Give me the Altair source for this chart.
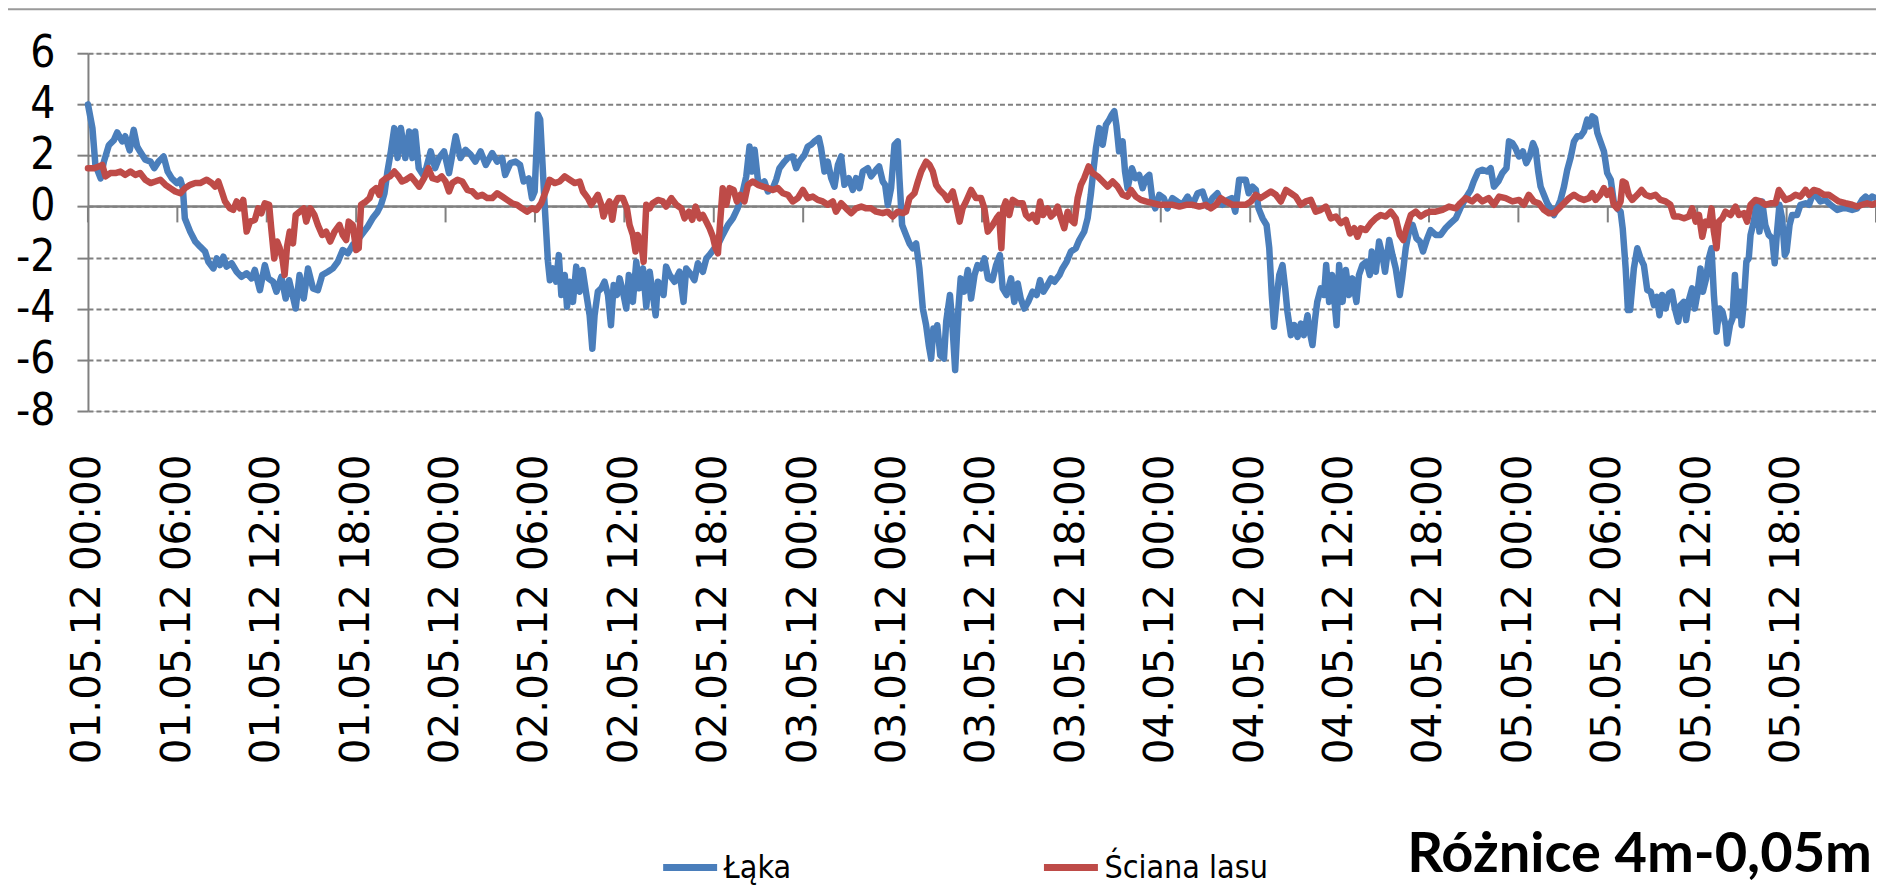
import altair as alt
import pandas as pd

# ---------------- data (hours from 01.05.12 00:00) ----------------
laka_hours = [0,0.3,0.5,0.85,1.07,1.4,1.74,1.96,2.3,2.5,2.8,3.07,3.3,3.5,3.85,4.2,4.45,4.74,5.08,5.35,5.63,5.97,6.2,6.37,6.5,6.86,7.2,7.53,7.86,8.08,8.42,8.64,8.86,9.09,9.3,9.64,9.98,10.3,10.65,10.98,11.2,11.54,11.87,12.1,12.43,12.65,12.98,13.27,13.5,13.94,14.2,14.48,14.77,15.1,15.43,15.72,16.1,16.44,16.77,17.1,17.44,17.77,18.1,18.44,18.78,19.1,19.44,19.67,19.9,20.1,20.33,20.56,20.78,21.0,21.3,21.56,21.78,21.96,22.2,22.56,23.0,23.3,23.56,23.9,24.23,24.68,25.0,25.34,25.68,26.0,26.35,26.7,27.13,27.46,27.8,28.0,28.35,28.7,29.0,29.24,29.58,29.8,29.98,30.2,30.35,
30.65,30.87,31.0,31.2,31.42,31.6,31.77,32.0,32.15,32.33,32.55,32.77,33.0,33.2,33.42,33.67,33.85,34.0,34.22,34.45,34.67,34.9,35.1,35.28,35.5,35.68,35.9,36.13,36.3,36.57,36.8,37.0,37.25,37.47,37.7,37.88,38.1,38.25,38.48,38.63,38.8,39.04,39.37,39.7,39.97,40.15,40.5,40.7,40.93,41.27,41.5,41.7,42.05,42.28,42.6,42.95,43.28,43.6,43.95,44.18,44.4,44.58,44.74,44.96,45.18,45.4,45.63,45.96,46.19,46.41,46.75,46.97,47.3,47.53,47.75,48.1,48.31,48.53,48.76,49.05,49.2,49.43,49.65,49.88,50.1,50.33,50.55,50.77,51.06,51.33,51.55,51.78,52.0,52.34,52.56,52.9,53.1,53.34,53.5,53.68,53.9,54.13,54.35,54.46,54.64,54.9,55.13,55.35,55.58,55.8,56.03,56.25,56.43,56.59,56.74,56.9,57.0,57.2,57.45,57.6,57.85,58.0,58.2,58.4,58.57,58.8,59.05,59.27,59.5,59.7,59.94,60.16,60.4,
60.7,60.95,61.2,61.39,61.65,61.95,62.17,62.4,62.6,62.84,63.1,63.4,63.67,63.9,64.12,64.4,64.63,64.86,65.2,65.4,65.68,65.97,66.3,66.53,66.86,67.09,67.3,67.47,67.65,67.87,68.1,68.32,68.54,68.72,68.88,69.03,69.2,69.44,69.6,69.77,70.06,70.3,70.55,70.78,71.0,71.23,71.45,71.63,71.9,72.2,72.45,72.78,73.1,73.45,73.8,74.13,74.47,74.8,75.14,75.47,75.8,76.14,76.5,76.76,77.0,77.26,77.48,77.7,77.9,78.15,78.38,78.56,78.83,79.1,79.28,79.45,79.6,79.8,79.95,80.17,80.35,80.5,80.73,80.96,81.18,81.4,81.6,81.85,82.0,82.18,82.36,82.5,82.74,82.96,83.1,83.3,83.5,83.8,83.97,84.2,84.42,84.64,84.86,85.13,85.3,85.53,85.8,86.03,86.16,86.43,86.65,86.87,87.05,87.33,87.55,87.77,88.04,88.2,88.44,88.67,88.9,89.16,89.4,89.6,89.85,90.1,90.45,
90.78,91.1,91.45,91.8,92.1,92.46,92.8,93.0,93.3,93.58,93.9,94.14,94.36,94.65,94.92,95.2,95.37,95.6,95.8,96.04,96.3,96.53,96.75,96.98,97.16,97.33,97.49,97.71,97.94,98.16,98.39,98.6,98.83,99.06,99.28,99.5,99.73,99.95,100.17,100.4,100.62,100.78,100.96,101.14,101.3,101.5,101.74,101.96,102.2,102.4,102.63,102.86,103.0,103.2,103.35,103.5,103.75,103.98,104.2,104.42,104.65,104.88,105.1,105.3,105.47,105.65,105.88,106.1,106.3,106.5,106.73,106.88,107.1,107.26,107.44,107.66,107.84,108.0,108.22,108.38,108.6,108.78,108.96,109.12,109.3,109.5,109.7,109.9,110.0,110.2,110.37,110.53,110.7,110.85,110.98,111.13,111.3,111.46,111.58,111.8,112.0,112.18,112.36,112.57,112.8,113.03,113.2,113.36,113.52,113.7,113.88,114.0,114.2,114.37,114.7,114.93,115.27,115.5,115.7,115.94,116.27,116.6,116.95,117.4,117.73,118.06,118.4,118.73,119.07,119.3,119.52,119.74,120.0]
laka_values = [4.0,3.07,1.63,1.1,1.76,2.4,2.6,2.9,2.55,2.75,2.2,3.0,2.35,2.15,1.83,1.76,1.5,1.76,1.96,1.37,1.1,0.92,1.05,0.72,-0.46,-0.98,-1.37,-1.57,-1.76,-2.16,-2.42,-2.03,-2.29,-1.96,-2.35,-2.22,-2.55,-2.75,-2.61,-2.81,-2.48,-3.27,-2.29,-2.81,-2.94,-3.33,-2.75,-3.6,-2.88,-3.99,-2.68,-3.6,-2.42,-3.2,-3.27,-2.68,-2.55,-2.42,-2.16,-1.7,-1.83,-1.5,-1.31,-1.05,-0.78,-0.46,-0.2,0.07,0.52,1.37,2.16,3.07,1.9,3.07,1.9,2.94,1.9,2.94,1.5,1.18,2.16,1.5,1.9,2.16,1.31,2.75,1.9,2.22,2.03,1.76,2.16,1.63,2.09,1.76,1.9,1.24,1.7,1.76,1.63,0.98,1.1,0.33,0.59,3.6,3.4,
0.07,-2.16,-2.88,-2.42,-2.94,-1.9,-3.46,-2.68,-3.92,-2.94,-3.73,-2.35,-3.33,-2.48,-3.33,-4.25,-5.56,-4.25,-3.33,-3.2,-2.94,-3.46,-4.64,-3.07,-3.46,-2.81,-3.33,-3.99,-2.68,-3.73,-2.16,-3.2,-2.42,-3.92,-2.55,-3.33,-4.25,-2.94,-3.07,-3.46,-2.35,-2.68,-2.94,-2.55,-3.73,-2.42,-2.68,-2.88,-2.22,-2.55,-2.03,-1.9,-1.63,-1.5,-1.11,-0.72,-0.46,-0.07,0.59,1.18,2.35,1.37,2.22,1.05,0.85,0.98,0.59,0.72,1.05,1.5,1.76,1.9,1.96,1.5,1.76,2.03,2.35,2.42,2.55,2.68,2.29,1.37,1.76,1.11,0.78,1.63,1.96,0.85,1.11,0.65,1.11,0.72,1.37,1.5,1.18,1.44,1.57,0.98,0.85,0.07,0.72,2.42,2.55,1.11,-0.72,-1.11,-1.44,-1.63,-1.44,-2.42,-3.99,-4.64,-5.42,-5.95,-4.77,-5.16,-4.64,-5.82,-5.95,-4.5,-3.46,-4.5,-6.4,-4.12,-2.81,-3.33,-2.48,-3.6,-2.68,-2.29,-2.42,-2.03,-2.81,
-2.88,-2.29,-1.9,-3.2,-3.46,-2.81,-3.73,-3.01,-3.6,-3.99,-3.73,-3.33,-3.46,-2.88,-3.33,-3.07,-2.81,-2.94,-2.68,-2.42,-2.16,-1.76,-1.63,-1.31,-0.98,-0.46,0.46,1.37,2.29,3.07,2.42,3.2,3.4,3.6,3.73,3.14,2.16,2.55,1.37,0.72,1.5,1.11,1.24,0.72,1.11,1.24,0.2,-0.07,0.46,0.33,-0.07,0.33,0.2,0.07,0.39,0.07,0.52,0.59,0.0,0.33,0.52,0.07,0.26,0.33,-0.2,1.05,1.05,1.05,0.52,0.78,0.65,-0.07,-0.46,-0.72,-1.63,-3.46,-4.7,-3.46,-2.68,-2.29,-3.2,-4.12,-5.03,-4.64,-5.1,-4.58,-5.03,-4.25,-4.9,-5.42,-4.38,-3.73,-3.2,-3.46,-2.29,-3.73,-2.68,-4.64,-2.29,-3.73,-2.48,-3.46,-2.81,-3.73,-2.68,-2.29,-2.16,-2.68,-1.76,-2.55,-1.37,-1.9,-2.55,-1.31,-1.9,-2.42,-3.46,-2.81,-1.63,-0.92,-0.72,-1.24,-1.37,-1.76,-1.3,-0.92,-1.11,
-1.11,-0.85,-0.65,-0.46,-0.07,0.33,0.65,0.98,1.37,1.44,1.37,1.5,0.78,0.98,1.31,1.5,2.55,2.48,2.29,1.96,2.16,1.7,1.96,2.48,2.22,1.37,0.78,0.46,0.13,-0.07,-0.33,-0.07,0.26,0.78,1.44,1.9,2.55,2.75,2.75,2.94,3.4,3.14,3.53,3.46,2.88,2.55,2.16,1.31,1.05,0.2,-0.07,-0.2,-0.85,-2.42,-4.05,-4.05,-2.42,-1.63,-2.03,-2.29,-3.27,-3.33,-3.86,-3.53,-4.25,-3.46,-3.99,-3.4,-3.33,-3.99,-4.5,-3.86,-3.73,-4.44,-3.66,-3.2,-3.99,-3.46,-2.42,-3.33,-2.81,-2.03,-1.63,-3.46,-4.9,-3.99,-4.12,-4.64,-5.36,-4.64,-4.38,-2.68,-4.25,-3.33,-4.64,-3.73,-2.16,-2.03,-1.11,-0.59,0.2,-0.98,0.2,-0.72,-1.11,-1.24,-2.22,-0.98,0.07,-0.46,-1.9,-1.76,-0.72,-0.33,-0.33,0.07,0.13,0.07,0.39,0.46,0.2,0.26,0.07,-0.13,-0.07,-0.07,-0.13,-0.07,0.26,0.39,0.26,0.39,0.33]

sciana_hours = [0,0.4,0.73,0.96,1.18,1.5,1.84,2.18,2.5,2.85,3.18,3.5,3.85,4.2,4.52,4.86,5.2,5.52,5.86,6.2,6.52,6.86,7.2,7.53,7.97,8.3,8.53,8.75,8.98,9.2,9.53,9.75,9.98,10.2,10.42,10.65,10.87,11.2,11.42,11.64,11.87,12.16,12.3,12.5,12.7,12.87,13.05,13.2,13.36,13.54,13.76,13.94,14.2,14.48,14.65,14.92,15.2,15.43,15.72,15.98,16.26,16.55,16.88,17.1,17.33,17.5,17.77,18.0,18.17,18.33,18.66,18.9,19.06,19.33,19.55,19.73,20.0,20.27,20.56,20.85,21.07,21.34,21.67,21.96,22.23,22.56,22.85,23.12,23.45,23.74,24.0,24.23,24.45,24.8,25.12,25.46,25.8,26.12,26.46,26.8,27.13,27.46,27.8,28.13,28.46,28.8,29.13,29.46,29.8,30.1,
30.42,30.76,30.98,31.32,31.65,32.0,32.33,32.66,33.0,33.22,33.55,33.78,34.0,34.22,34.45,34.6,34.83,35.0,35.19,35.34,35.57,35.9,36.17,36.35,36.57,36.75,36.9,37.13,37.29,37.47,37.7,37.9,38.25,38.58,38.8,39.15,39.48,39.82,40.04,40.33,40.55,40.78,41.05,41.27,41.5,41.72,41.94,42.12,42.28,42.43,42.6,42.84,43.06,43.33,43.55,43.78,44.06,44.29,44.62,44.96,45.3,45.63,45.96,46.3,46.64,46.97,47.3,47.64,47.98,48.31,48.65,48.98,49.31,49.65,49.99,50.2,50.55,50.88,51.22,51.55,51.9,52.23,52.56,52.9,53.34,53.67,54.0,54.35,54.7,54.9,55.13,55.47,55.7,55.92,56.25,56.48,56.7,56.92,57.15,57.48,57.7,58.04,58.26,58.5,58.7,58.93,59.27,59.6,59.94,60.16,60.39,
60.72,60.98,61.15,61.3,61.43,61.6,61.83,62.06,62.4,62.73,62.95,63.18,63.4,63.67,63.9,64.1,64.4,64.63,64.86,65.08,65.3,65.52,65.75,65.97,66.2,66.42,66.64,66.86,67.16,67.42,67.76,68.1,68.43,68.77,69.1,69.44,69.77,70.0,70.33,70.66,71.0,71.45,71.9,72.35,72.8,73.25,73.7,74.14,74.58,75.03,75.36,75.7,76.03,76.36,76.8,77.25,77.7,78.05,78.38,78.7,79.05,79.39,79.72,80.06,80.4,80.73,81.06,81.4,81.73,82.07,82.4,82.74,83.08,83.41,83.75,84.08,84.42,84.7,84.98,85.2,85.42,85.76,86.1,86.43,86.76,87.1,87.44,87.77,88.04,88.27,88.49,88.78,89.11,89.44,89.79,90.12,
90.45,90.9,91.34,91.8,92.1,92.46,92.9,93.24,93.58,94.0,94.36,94.7,95.14,95.6,96.04,96.37,96.7,97.04,97.37,97.71,98.05,98.39,98.72,99.06,99.4,99.73,100.07,100.4,100.74,100.96,101.18,101.5,101.74,101.96,102.2,102.4,102.63,102.86,103.0,103.2,103.4,103.64,103.98,104.27,104.53,104.86,105.2,105.54,105.88,106.2,106.44,106.77,107.1,107.44,107.66,107.9,108.12,108.34,108.56,108.78,108.96,109.12,109.3,109.45,109.68,109.9,110.24,110.57,110.8,111.13,111.35,111.58,111.9,112.25,112.58,112.92,113.26,113.48,113.7,113.93,114.26,114.6,114.93,115.27,115.5,115.82,116.16,116.5,116.83,117.17,117.5,117.95,118.4,118.73,119.07,119.4,119.74,120.0]
sciana_values = [1.5,1.5,1.57,1.63,1.18,1.31,1.31,1.37,1.24,1.37,1.24,1.31,1.05,0.92,0.98,1.05,0.85,0.72,0.59,0.52,0.72,0.85,0.92,0.92,1.05,0.92,0.78,0.98,0.59,0.2,-0.07,-0.13,0.2,-0.07,0.26,-0.98,-0.59,-0.52,-0.07,-0.26,0.13,0.07,-0.85,-2.03,-1.37,-1.63,-2.03,-2.68,-1.57,-0.98,-1.44,-0.33,-0.2,-0.07,-0.59,-0.07,-0.33,-0.72,-1.11,-0.98,-1.37,-0.98,-0.72,-1.11,-1.31,-0.59,-0.72,-1.7,-1.63,0.07,0.2,0.33,0.59,0.72,0.46,0.98,1.11,1.18,1.37,1.18,0.98,1.05,1.18,0.98,0.78,1.11,1.5,1.11,1.05,1.18,0.98,0.59,0.92,1.05,0.98,0.65,0.59,0.39,0.46,0.33,0.33,0.52,0.39,0.26,0.13,0.07,-0.07,-0.2,-0.07,-0.13,
0.13,0.65,1.05,0.92,0.98,1.18,1.05,0.92,0.98,0.59,0.33,0.07,0.26,0.46,0.07,-0.39,0.0,0.2,-0.52,0.07,0.33,0.33,-0.07,-0.72,-1.11,-1.76,-1.11,-1.44,-2.16,0.07,-0.07,0.13,0.26,0.2,0.0,0.33,0.07,-0.07,-0.46,-0.2,-0.52,0.0,-0.46,-0.33,-0.59,-0.85,-1.18,-1.63,-1.83,-0.59,0.72,0.07,0.72,0.65,0.2,0.46,0.2,0.85,0.98,0.85,0.78,0.72,0.65,0.72,0.52,0.46,0.2,0.33,0.65,0.33,0.39,0.26,0.2,0.07,0.2,-0.2,0.13,-0.07,-0.26,-0.07,0.0,-0.07,-0.07,-0.2,-0.26,-0.2,-0.39,-0.2,-0.26,-0.2,0.33,0.52,0.98,1.37,1.76,1.63,1.37,0.85,0.65,0.46,0.26,0.59,0.07,-0.59,-0.07,0.2,0.65,0.33,0.33,-0.07,-0.98,
-0.72,-0.46,-0.33,-1.63,-0.07,0.2,-0.33,0.26,0.13,0.13,-0.33,-0.46,-0.33,-0.59,0.2,-0.33,-0.07,-0.39,-0.26,0.0,-0.46,-0.85,-0.2,-0.52,-0.65,0.33,0.85,1.11,1.57,1.31,1.18,0.98,0.78,0.98,0.78,0.46,0.39,0.65,0.39,0.26,0.2,0.13,0.07,0.07,0.07,0.0,0.07,0.07,0.0,0.07,-0.07,0.07,0.33,0.2,0.07,0.07,0.07,0.2,0.46,0.33,0.46,0.59,0.46,0.2,0.65,0.52,0.39,0.07,0.2,0.26,-0.2,-0.13,0.0,-0.46,-0.39,-0.65,-0.52,-1.05,-0.85,-1.18,-0.85,-0.92,-0.65,-0.46,-0.33,-0.39,-0.2,-0.46,-1.11,-1.31,-0.85,-0.33,-0.2,-0.39,-0.26,-0.2,
-0.2,-0.13,0.0,-0.07,0.13,0.33,0.2,0.39,0.2,0.33,0.07,0.39,0.33,0.2,0.26,0.07,0.46,0.2,0.13,-0.13,-0.26,-0.26,-0.07,0.13,0.33,0.46,0.33,0.26,0.33,0.52,0.26,0.46,0.72,0.46,0.65,0.07,-0.07,0.2,0.98,0.92,0.46,0.26,0.46,0.65,0.46,0.39,0.46,0.26,0.2,0.07,-0.39,-0.39,-0.46,-0.39,-0.07,-0.59,-0.33,-1.18,-0.59,-0.72,-0.07,-0.98,-1.63,-0.59,-0.46,-0.2,-0.33,0.0,-0.33,-0.26,-0.59,0.07,0.26,0.2,0.07,0.13,0.13,0.65,0.46,0.26,0.33,0.46,0.39,0.65,0.46,0.65,0.59,0.46,0.46,0.33,0.2,0.13,0.07,0.0,0.07,0.13,0.07,0.13]

series_names = ["Łąka", "Ściana lasu"]
series_colors = ["#4a7ebb", "#be4b48"]
tick_hours = list(range(0, 121, 6))        # tick marks on the zero line
label_hours = list(range(0, 115, 6))       # labelled categories
y_ticks = [-8, -6, -4, -2, 0, 2, 4, 6]
title_text = "Różnice 4m-0,05m"

start = pd.Timestamp("2012-05-01 00:00:00")
def to_time(hours):
    return [start + pd.Timedelta(hours=h) for h in hours]

df_laka = pd.DataFrame({"time": to_time(laka_hours), "value": laka_values, "series": series_names[0]})
df_sciana = pd.DataFrame({"time": to_time(sciana_hours), "value": sciana_values, "series": series_names[1]})
df_ticks = pd.DataFrame({"time": to_time(tick_hours)})
df_one = pd.DataFrame({"title": [title_text]})

GRAY = "#808080"
NARROW = "DejaVu Sans Condensed, sans-serif"
LINE_W = 6.5

W, H = 1789, 358

x_scale = alt.Scale(domain=[alt.DateTime(year=2012, month=5, date=1, hours=0),
                            alt.DateTime(year=2012, month=5, date=6, hours=0)])
y_scale = alt.Scale(domain=[-8, 6], nice=False, zero=False)
color_scale = alt.Scale(domain=series_names, range=series_colors)

x_axis = alt.Axis(
    values=[alt.DateTime(year=2012, month=5, date=1 + h // 24, hours=h % 24) for h in label_hours],
    format="%d.%m.%y %H:%M", title=None,
)
y_axis = alt.Axis(
    values=y_ticks, title=None,
    labelExpr="datum.value < 0 ? '-' + abs(datum.value) : '' + datum.value",
)

legend = alt.Legend(
    title=None, orient="none", legendX=572, legendY=784, direction="horizontal",
    symbolType="stroke", symbolSize=2916, symbolStrokeWidth=7,
    labelFont=NARROW, labelFontSize=32, labelColor="black", labelOffset=3, labelLimit=600,
    columnPadding=238, padding=0,
)

blue = alt.Chart(df_laka).mark_line(strokeWidth=LINE_W, strokeJoin="round", strokeCap="round").encode(
    x=alt.X("time:T", scale=x_scale, axis=x_axis),
    y=alt.Y("value:Q", scale=y_scale, axis=y_axis),
    color=alt.Color("series:N", scale=color_scale, legend=legend),
    strokeWidth=alt.value(LINE_W),
)
red = alt.Chart(df_sciana).mark_line(strokeWidth=LINE_W, strokeJoin="round", strokeCap="round").encode(
    x="time:T", y="value:Q",
    color=alt.Color("series:N", scale=color_scale, legend=legend),
    strokeWidth=alt.value(LINE_W),
)

zero_line = alt.Chart(df_one).mark_rule(color=GRAY, strokeWidth=2.5).encode(y=alt.datum(0))
x_ticks = alt.Chart(df_ticks).mark_rule(color=GRAY, strokeWidth=2).encode(
    x="time:T", y=alt.datum(0), y2=alt.datum(-0.62)
)
top_line = alt.Chart(df_one).mark_rule(color="#9a9a9a", strokeWidth=2).encode(
    x=alt.value(-88), x2=alt.value(W + 7), y=alt.value(-44)
)
title = alt.Chart(df_one).mark_text(
    font="Lato", fontWeight="bold", fontSize=56, align="right", baseline="alphabetic", color="black"
).encode(text="title:N", x=alt.value(W - 4), y=alt.value(819))

chart = alt.layer(zero_line, x_ticks, blue, red, title, top_line).properties(
    width=W, height=H,
    autosize=alt.AutoSizeParams(type="none"),
    padding={"left": 80, "top": 45, "right": 0, "bottom": 474},
).configure_view(
    stroke=None
).configure(
    background="white"
).configure_axisX(
    labelAngle=270, labelAlign="right", labelBaseline="middle",
    labelFont="DejaVu Sans", labelFontSize=40.5, labelColor="black", labelPadding=43,
    labelLimit=1000, ticks=False, tickSize=0, domain=False, grid=False,
    labelOverlap=False, labelFlush=False,
).configure_axisY(
    labelFont=NARROW, labelFontSize=44, labelColor="black", labelPadding=22, labelLimit=200,
    domainColor=GRAY, domainWidth=2, tickColor=GRAY, tickWidth=2, tickSize=11,
    grid=True, gridColor=GRAY, gridDash=[5, 3], gridWidth=2, gridOpacity=1,
    labelOverlap=False, labelFlush=False,
)

chart.save("out.html", embed_options={"renderer": "svg", "actions": False})
